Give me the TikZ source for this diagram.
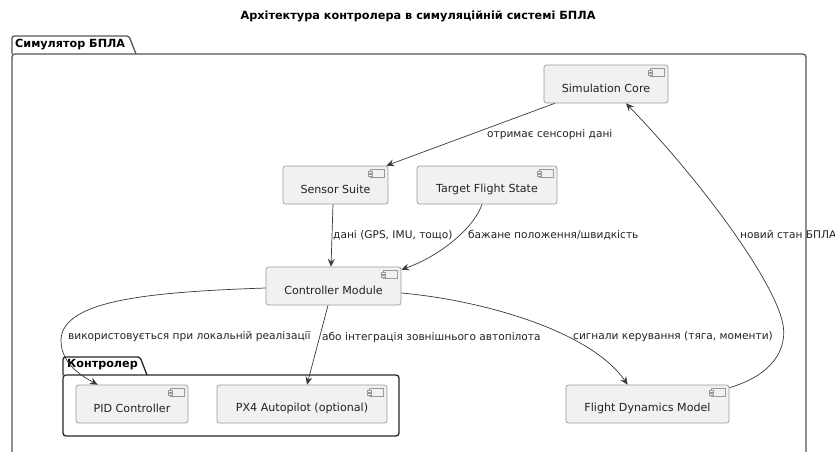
\documentclass[tikz,border=0pt]{standalone}
\usepackage{fontspec}
\setmainfont{DejaVu Sans}
\usetikzlibrary{arrows.meta,calc}
\definecolor{boxfill}{HTML}{F1F1F1}
\definecolor{boxline}{HTML}{9A9A9A}
\definecolor{edgecol}{HTML}{383838}
\definecolor{txtcol}{HTML}{222222}
\definecolor{framecol}{HTML}{555555}
\tikzset{
  comp/.style={draw=boxline, fill=boxfill, line width=0.7pt, rounded corners=2.5pt,
    minimum height=38pt, inner sep=0pt},
  complbl/.style={font=\fontsize{11.1}{13}\selectfont, text=txtcol, inner sep=0pt},
  edgelbl/.style={font=\fontsize{10.6}{12}\selectfont, text=txtcol, inner sep=0pt, anchor=west},
  arr/.style={draw=edgecol, line width=0.7pt, -{Stealth[length=8pt,width=7pt,inset=3pt]}},
  frm/.style={draw=framecol, line width=1.3pt},
  pkgtitle/.style={font=\bfseries\fontsize{11.2}{13}\selectfont, inner sep=0pt, anchor=west},
  iconbox/.style={draw=boxline, fill=boxfill, line width=0.6pt}
}
\newcommand\compicon[1]{%
  \draw[iconbox] ($(#1.north east)+(-18,4)$) rectangle ++(14pt,-8pt);
  \draw[iconbox] ($(#1.north east)+(-20,5.5)$) rectangle ++(4pt,-2pt);
  \draw[iconbox] ($(#1.north east)+(-20,8.5)$) rectangle ++(4pt,-2pt);
}
\begin{document}
\begin{tikzpicture}[x=1pt,y=-1pt]
\useasboundingbox (0,0) rectangle (835,451);
\clip (0,0) rectangle (835,451);
% title
\node[font=\bfseries\fontsize{11.3}{13}\selectfont, inner sep=0pt] (title) at (418,16)
  {Архітектура контролера в симуляційній системі БПЛА};
% outer package
\draw[frm, rounded corners=3pt] (12,54) -- (806,54) -- (806,480) -- (12,480) -- cycle;
\draw[frm, rounded corners=2.5pt] (12,54) -- (12,36) -- (129,36) -- (136,54);
\node[pkgtitle] (pkgsim) at (15,45) {Симулятор БПЛА};
% inner package
\draw[frm, draw=black!85, rounded corners=3pt] (63,375) -- (399,375) -- (399,436) -- (63,436) -- cycle;
\draw[frm, draw=black!85, rounded corners=2.5pt] (63,375) -- (63,357) -- (140,357) -- (147,375);
\node[pkgtitle] (pkgctl) at (67,365) {Контролер};
% components
\node[comp, minimum width=124pt] (sim) at (606,84) {};
\node[comp, minimum width=105pt] (sensor) at (335.5,185) {};
\node[comp, minimum width=140pt] (target) at (487,185) {};
\node[comp, minimum width=135pt] (ctrl) at (333.5,286) {};
\node[comp, minimum width=112pt] (pid) at (132,404) {};
\node[comp, minimum width=170pt] (px4) at (302,404) {};
\node[comp, minimum width=163pt] (fdm) at (647.5,404) {};
\foreach \n in {sim,sensor,target,ctrl,pid,px4,fdm}{\compicon{\n}}
\node[complbl] (simt) at ($(sim.center)+(0,4)$) {Simulation Core};
\node[complbl] (sensort) at ($(sensor.center)+(0,4)$) {Sensor Suite};
\node[complbl] (targett) at ($(target.center)+(0,4)$) {Target Flight State};
\node[complbl] (ctrlt) at ($(ctrl.center)+(0,4)$) {Controller Module};
\node[complbl] (pidt) at ($(pid.center)+(0,4)$) {PID Controller};
\node[complbl] (px4t) at ($(px4.center)+(0,4)$) {PX4 Autopilot (optional)};
\node[complbl] (fdmt) at ($(fdm.center)+(0,4)$) {Flight Dynamics Model};
% connectors
\draw[arr] ($(sim.south west)+(11,0)$) -- ($(sensor.north east)+(-2,0)$);
\draw[arr] ($(sensor.south)+(-2.5,0)$) -- ($(ctrl.north)+(-2.5,0)$);
\draw[arr] ($(target.south)+(-5,0)$) .. controls (474,228) and (440,256) .. ($(ctrl.north east)+(0,3)$);
\draw[arr] ($(ctrl.west)+(0,2)$) .. controls (150,292) and (62,300) .. (61,340)
  .. controls (61,362) and (78,374) .. ($(pid.north west)+(22,0)$);
\draw[arr] ($(ctrl.south)+(-5.5,0)$) -- ($(px4.north)+(5,0)$);
\draw[arr] ($(ctrl.east)+(0,7)$) .. controls (480,300) and (590,330) .. ($(fdm.north west)+(62,0)$);
\draw[arr] ($(fdm.north east)+(0,3)$) .. controls (770,376) and (790,350) .. (782,320)
  .. controls (770,275) and (700,180) .. ($(sim.south)+(20,0)$);
% edge labels
\node[edgelbl] (l1) at (487,135) {отримає сенсорні дані};
\node[edgelbl] (l2) at (333,235) {дані (GPS, IMU, тощо)};
\node[edgelbl] (l3) at (468,235) {бажане положення/швидкість};
\node[edgelbl] (l4) at (740,235) {новий стан БПЛА};
\node[edgelbl] (l5) at (68,337) {використовується при локальній реалізації};
\node[edgelbl] (l6) at (322,337) {або інтеграція зовнішнього автопілота};
\node[edgelbl] (l7) at (573,337) {сигнали керування (тяга, моменти)};
\end{tikzpicture}
\end{document}
